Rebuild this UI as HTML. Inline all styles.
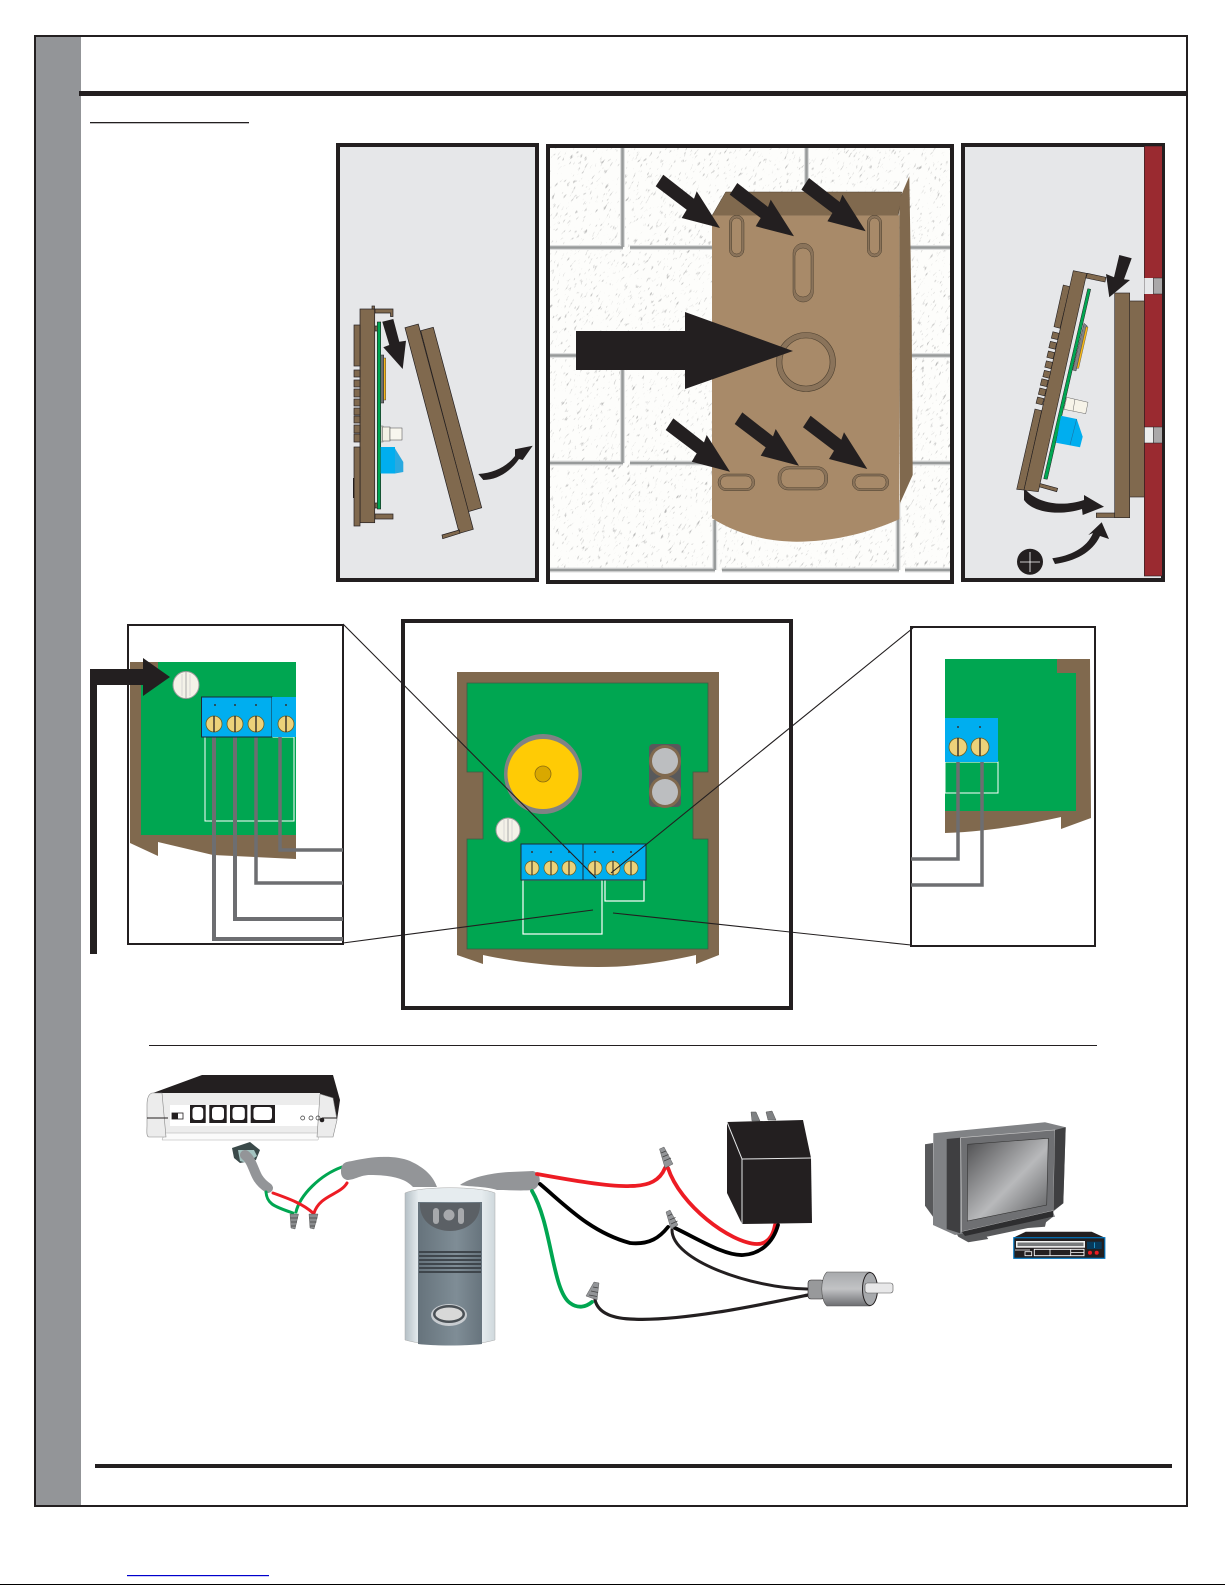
<!DOCTYPE html>
<html><head><meta charset="utf-8"><title>Diagram</title>
<style>html,body{margin:0;padding:0;background:#fff}svg{display:block}</style></head>
<body>
<svg xmlns="http://www.w3.org/2000/svg" width="1225" height="1585" viewBox="0 0 1225 1585">
<defs>
<filter id="spk" x="0" y="0" width="1" height="1" color-interpolation-filters="sRGB">
<feTurbulence type="fractalNoise" baseFrequency=".16 .5" numOctaves="2" seed="7"/>
<feColorMatrix values="0 0 0 0 .55  0 0 0 0 .55  0 0 0 0 .55  5 0 0 0 -3.15"/>
</filter>
<clipPath id="wallclip"><rect x="550" y="148" width="400" height="423"/></clipPath>
<linearGradient id="scr" x1="0" y1="0" x2="1" y2="1"><stop offset="0" stop-color="#4d4d4f"/><stop offset=".55" stop-color="#b8b9bb"/><stop offset="1" stop-color="#58595b"/></linearGradient>
<linearGradient id="door" x1="0" y1="0" x2="1" y2="0"><stop offset="0" stop-color="#b4bfc5"/><stop offset=".15" stop-color="#e6ecef"/><stop offset=".85" stop-color="#e6ecef"/><stop offset="1" stop-color="#cfd8dc"/></linearGradient>
<linearGradient id="doorp" x1="0" y1="0" x2="1" y2="0"><stop offset="0" stop-color="#66737c"/><stop offset=".6" stop-color="#7f8d96"/><stop offset="1" stop-color="#67747d"/></linearGradient>
<linearGradient id="bar" x1="0" y1="0" x2="0" y2="1"><stop offset="0" stop-color="#a7a9ac"/><stop offset=".5" stop-color="#c2c3c5"/><stop offset="1" stop-color="#6d6e71"/></linearGradient>
</defs>

<!-- page frame -->
<rect x="36" y="36" width="45" height="1470" fill="#939598"/>
<rect x="35" y="36" width="1152" height="1470" fill="none" stroke="#231f20" stroke-width="2"/>
<rect x="79" y="91" width="1108" height="5" fill="#231f20"/>
<rect x="90" y="122" width="159" height="1.3" fill="#231f20"/>
<rect x="95" y="1464" width="1077" height="4" fill="#231f20"/>
<rect x="127" y="1575" width="142" height="1.2" fill="#0000cc"/>
<rect x="0" y="1584" width="1225" height="1" fill="#000"/>

<!-- panel 1 -->
<rect x="338" y="145" width="199" height="435" fill="#e6e7e9" stroke="#231f20" stroke-width="4"/>
<g fill="#80694e" stroke="#231f20" stroke-width=".7">
<rect x="360" y="309" width="14.7" height="213.7"/><rect x="354" y="325" width="6" height="41"/>
<rect x="354" y="370" width="6" height="7"/><rect x="354" y="380" width="6" height="7"/><rect x="354" y="389" width="6" height="8"/><rect x="354" y="399" width="6" height="7"/><rect x="354" y="408" width="6" height="7"/><rect x="354" y="416" width="6" height="7"/><rect x="354" y="425" width="6" height="8"/><rect x="354" y="434" width="6" height="8"/>
<rect x="354" y="447" width="6" height="79"/>
<rect x="372" y="306" width="2.5" height="3"/>
<path d="M375 309H393V316.5H390.5V313H375Z"/><rect x="375" y="514" width="18" height="5"/>
<rect x="375" y="326" width="2.3" height="5"/><rect x="375" y="503" width="2.3" height="5"/>
<polygon points="420.7,330.7 433.3,327.3 481.7,507.7 468.3,511.7"/>
<polygon points="405,327.7 418.3,324 473.3,529.3 459.3,533.3"/>
<polygon points="442,535 459.3,530 460,533.3 442.7,538.7"/>
</g>
<rect x="353" y="478" width="1.2" height="20" fill="#231f20"/>
<rect x="377.3" y="322" width="3.4" height="187" fill="#00a651" stroke="#231f20" stroke-width=".6"/>
<rect x="380.7" y="355" width="3" height="48" fill="#6d6e71" stroke="#231f20" stroke-width=".5"/><rect x="383.7" y="358" width="2" height="42" fill="#f5b81c" stroke="#231f20" stroke-width=".4"/>
<rect x="381" y="426" width="2" height="16" fill="#f4f1e6" stroke="#444" stroke-width=".4"/><rect x="382.5" y="427" width="7.5" height="14" fill="#f4f1e6" stroke="#444" stroke-width=".5"/><rect x="390" y="428" width="12" height="12" fill="#f8f6ee" stroke="#444" stroke-width=".5"/>
<rect x="380.7" y="447" width="14.3" height="26.5" fill="#00aeef"/>
<polygon points="395,448.5 403.3,462 403.3,472 395,473.5" fill="#29a9e0"/>
<polygon points="382.3,321.7 393.3,319 399.3,341.7 406,340.7 402.7,369 383.3,347.3 389.3,345" fill="#231f20"/>
<path d="M478.3 474C495 473 507 466 515 456L515 449.3L532.7 445.7L522.7 460L519 459C510 472 497 480 483.3 480Z" fill="#231f20"/>

<!-- panel 2 -->
<rect x="548" y="146" width="404" height="436" fill="#fff" stroke="#231f20" stroke-width="4"/>
<rect x="550" y="148" width="400" height="423" fill="#fdfdfb"/>
<g clip-path="url(#wallclip)"><g transform="rotate(-58 750 360)"><rect x="450" y="60" width="600" height="600" filter="url(#spk)" opacity=".6"/></g></g>
<g fill="none" stroke="#dcdddd" stroke-width="5">
<path d="M550 247.5H623M630 247.5H712M910 247.5H950M622.5 148V247M806.5 148V190M550 355.5H576M910 355.5H950M622.5 370V463M550 463H623M630 463H712M912 463H950M714.7 520V570M898 500V570M550 570H715M722 570H899M905 570H950"/>
</g>
<g fill="none" stroke="#979a9a" stroke-width="2.5">
<path d="M550 247.5H623M630 247.5H712M910 247.5H950M622.5 148V247M806.5 148V190M550 355.5H576M910 355.5H950M622.5 370V463M550 463H623M630 463H712M912 463H950M714.7 520V570M898 500V570M550 570H715M722 570H899M905 570H950"/>
</g>
<polygon points="725.7,192 901.7,192 898.3,215.3 712.3,215.3" fill="#80694e" stroke="#4d4030" stroke-width=".5"/>
<path d="M712 215.3H899.3V519.3C870 532 836 541.7 796.7 541.7C765 541.7 735 533 712 518.3Z" fill="#a88a69"/>
<polygon points="899.3,199.7 909.3,176.3 911.7,320 912.7,475 900,503.3 899.3,380" fill="#80694e"/>
<g fill="#8a735a" stroke="#4d4030" stroke-width=".5">
<rect x="729.3" y="215.3" width="14.7" height="41.7" rx="7.3"/><rect x="867.3" y="215.3" width="14.4" height="41.7" rx="7.2"/>
<rect x="793" y="243.3" width="20.3" height="58.7" rx="10"/>
<rect x="718" y="474" width="36.7" height="16.7" rx="8"/><rect x="778" y="466.7" width="49.7" height="23.3" rx="10"/><rect x="852.3" y="474" width="36.4" height="16.7" rx="8"/>
</g>
<g fill="#a88a69" stroke="#4d4030" stroke-width=".5">
<rect x="731.7" y="218" width="10" height="36" rx="5"/><rect x="869.7" y="218" width="9.6" height="36" rx="4.8"/>
<rect x="795" y="248" width="16" height="49" rx="8"/>
<rect x="720.5" y="476" width="31.5" height="12.7" rx="6"/><rect x="781" y="469" width="43.5" height="18.7" rx="8"/><rect x="855" y="476" width="31" height="12.7" rx="6"/>
</g>
<circle cx="806" cy="362" r="29.5" fill="#8a735a" stroke="#4d4030" stroke-width=".6"/><circle cx="806" cy="362" r="24" fill="#a88a69" stroke="#4d4030" stroke-width=".6"/>
<g fill="#231f20">
<polygon points="576,331 685,331 685,312 793,351 685,389 685,370 576,370"/>
<polygon transform="translate(720 228)" points="-56.7,-53.3 -26,-29.3 -23.3,-36.7 0,0 -38.3,-10 -33.3,-18.3 -64.3,-41.7"/>
<polygon transform="translate(794 236.3)" points="-56.7,-53.3 -26,-29.3 -23.3,-36.7 0,0 -38.3,-10 -33.3,-18.3 -64.3,-41.7"/>
<polygon transform="translate(865.7 231.3)" points="-56.7,-53.3 -26,-29.3 -23.3,-36.7 0,0 -38.3,-10 -33.3,-18.3 -64.3,-41.7"/>
<polygon transform="translate(730 471.7)" points="-56.7,-53.3 -26,-29.3 -23.3,-36.7 0,0 -38.3,-10 -33.3,-18.3 -64.3,-41.7"/>
<polygon transform="translate(799 465.7)" points="-56.7,-53.3 -26,-29.3 -23.3,-36.7 0,0 -38.3,-10 -33.3,-18.3 -64.3,-41.7"/>
<polygon transform="translate(867.3 469)" points="-56.7,-53.3 -26,-29.3 -23.3,-36.7 0,0 -38.3,-10 -33.3,-18.3 -64.3,-41.7"/>
</g>

<!-- panel 3 -->
<rect x="963" y="145" width="200" height="435" fill="#e6e7e9" stroke="#231f20" stroke-width="4"/>
<rect x="1144.3" y="146" width="18" height="430" fill="#9a2a30" stroke="#231f20" stroke-width=".6"/>
<rect x="1144.3" y="278" width="9" height="16" fill="#e6e7e9"/><rect x="1153.3" y="278" width="9" height="16" fill="#aaa8a9" stroke="#231f20" stroke-width=".5"/>
<rect x="1144.3" y="427" width="9" height="16" fill="#eceded" stroke="#231f20" stroke-width=".5"/><rect x="1153.3" y="427" width="9" height="16" fill="#aaa8a9" stroke="#231f20" stroke-width=".5"/>
<g fill="#80694e" stroke="#231f20" stroke-width=".6">
<rect x="1129.7" y="301" width="14.6" height="196"/><rect x="1114.7" y="293" width="15" height="224.7"/><rect x="1096.3" y="513" width="18.4" height="4.5"/>
<polygon points="1087.3,273.3 1106,277.3 1105,282 1086,278"/><polygon points="1039.3,483.3 1057.7,488.3 1056.7,491.7 1038.7,486.7"/>
<polygon points="1063.3,285 1070,286.7 1060,328.3 1054,326.7"/>
<polygon points="1035,409 1041.7,410.7 1024,490 1016.7,489.3"/>
<polygon points="1073.3,270.7 1086.7,273.3 1038.3,491.7 1024,490"/>
<rect x="1052" y="332.5" width="6.5" height="6.5" transform="rotate(14 1055.3 335.7)"/><rect x="1049.5" y="342" width="6.5" height="6.5" transform="rotate(14 1052.7 345.3)"/><rect x="1047.5" y="351.7" width="6.5" height="6.5" transform="rotate(14 1050.7 355)"/><rect x="1045.5" y="361.5" width="6.5" height="6.5" transform="rotate(14 1048.7 364.7)"/><rect x="1043.5" y="371" width="6.5" height="6.5" transform="rotate(14 1046.7 374.3)"/><rect x="1041" y="379.5" width="6.5" height="6.5" transform="rotate(14 1044.3 382.7)"/><rect x="1039" y="388.7" width="6.5" height="6.5" transform="rotate(14 1042.3 392)"/><rect x="1036.7" y="397.7" width="6.5" height="6.5" transform="rotate(14 1040 401)"/>
</g>
<polygon points="1087.7,288.7 1090.7,289.3 1047.3,479.3 1043.7,478.7" fill="#00a651" stroke="#231f20" stroke-width=".5"/>
<polygon points="1084,323.3 1087.3,326 1076,371 1072.7,370" fill="#808285" stroke="#231f20" stroke-width=".4"/><polygon points="1086,326.7 1088,327.3 1078.7,368.3 1076.7,368.3" fill="#f5b81c" stroke="#231f20" stroke-width=".3"/>
<polygon points="1066.7,397.3 1088,402.3 1085.7,413.7 1064,409.3" fill="#f6f3e8" stroke="#666" stroke-width=".5"/><path d="M1075 399L1073 411" stroke="#666" stroke-width=".5"/>
<polygon points="1061,415.7 1076.7,419 1082.7,436.7 1080,447.3 1056,442.7" fill="#00aeef"/><path d="M1076.7 419L1070 445" stroke="#1b75a8" stroke-width=".6"/>
<polygon points="1119.3,255 1131.7,258.3 1124,279.3 1130,280 1109.3,297.3 1106,274 1114,277.3" fill="#231f20"/>
<path d="M1024 490L1026.7 490.7C1037 502 1060 508 1084 500L1084 495L1104 506.7L1082.7 515L1082 509C1060 516 1033 513 1024 500Z" fill="#231f20"/>
<path d="M1052.3 558.3C1070 556 1087 548 1093 533L1088.3 535L1101.7 522.3L1109 539L1100 536C1092 553 1075 561 1055 564Z" fill="#231f20"/>
<circle cx="1030" cy="561.7" r="13" fill="#231f20"/><path d="M1030 552v20M1020 562h20" stroke="#fff" stroke-width=".8"/>

<!-- bottom boxes: left -->
<rect x="128" y="625" width="215" height="319" fill="#fff" stroke="#231f20" stroke-width="2"/>
<polygon points="130,662 296,662 296,859 213,855 158,842 158,856 130,843" fill="#80694e"/>
<polygon points="141,835 296,835 296,662 158,662 158,675 141,675" fill="#00a651"/>
<rect x="205" y="737" width="89" height="84" fill="none" stroke="#fff" stroke-width="1"/>
<g fill="none" stroke="#6d6e71" stroke-width="3.5">
<path d="M214 737V939H343" stroke-width="4"/><path d="M235 737V919H343" stroke-width="4"/><path d="M256 737V883H343"/><path d="M280 737V850H343"/>
</g>
<rect x="201.5" y="697" width="70.5" height="40" fill="#00aeef" stroke="#1c2a38" stroke-width="1"/>
<rect x="272" y="697" width="24" height="40" fill="#00aeef"/>
<g fill="#ecd27a" stroke="#6b5d1f" stroke-width=".8"><ellipse cx="214" cy="724" rx="8" ry="8"/><ellipse cx="235" cy="724" rx="8" ry="8"/><ellipse cx="256" cy="724" rx="8" ry="8"/><ellipse cx="286" cy="724" rx="8" ry="8"/></g>
<path d="M214 716v16M235 716v16M256 716v16M286 716v16" stroke="#231f20" stroke-width="1.3"/>
<g fill="#333"><circle cx="215" cy="705" r="1"/><circle cx="235" cy="705" r="1"/><circle cx="256" cy="705" r="1"/><circle cx="286" cy="705" r="1"/></g>
<ellipse cx="186" cy="685" rx="13" ry="13.5" fill="#f4f2e8" stroke="#999" stroke-width="1"/><path d="M186 672v26" stroke="#aaa" stroke-width="1"/><path d="M182 674v22M190 674v22" stroke="#ccc" stroke-width=".7"/>
<path d="M90 954V669H143V658L170 677L143 696V685H97V954Z" fill="#231f20"/>

<!-- center box -->
<rect x="403" y="621" width="388" height="387" fill="#fff" stroke="#231f20" stroke-width="4"/>
<path d="M457 672H719V955L696 964V955C660 963 630 967 598 967C560 967 520 963 483 955V964L457 955Z" fill="#80694e"/>
<path d="M467 683H708V772H693V839H708V949H467V839H483V772H467Z" fill="#00a651" stroke="#3e5b45" stroke-width=".8"/>
<ellipse cx="543" cy="774" rx="39" ry="40" fill="#808285"/><ellipse cx="543" cy="774" rx="35.5" ry="35" fill="#ffcb05"/><circle cx="543" cy="774" r="8" fill="#d9a800" stroke="#8b6c10" stroke-width=".8"/>
<rect x="649" y="744" width="32" height="63" rx="4" fill="#58595b"/><circle cx="665" cy="761" r="16" fill="#80694e"/><circle cx="665" cy="792" r="16" fill="#80694e"/><circle cx="665" cy="761" r="13" fill="#bcbec0"/><circle cx="665" cy="792" r="13" fill="#bcbec0"/>
<circle cx="508" cy="830" r="12" fill="#f4f2e8" stroke="#999" stroke-width="1"/><path d="M508 819v22" stroke="#aaa" stroke-width="1"/><path d="M504 820v20M512 820v20" stroke="#ccc" stroke-width=".7"/>
<g fill="none" stroke="#fff" stroke-width="1.2"><rect x="523" y="880" width="79" height="54"/><rect x="605" y="880" width="39" height="21"/></g>
<rect x="521" y="844" width="62" height="36" fill="#00aeef" stroke="#1c2a38" stroke-width="1"/><rect x="583" y="844" width="63" height="36" fill="#00aeef" stroke="#1c2a38" stroke-width="1"/>
<g fill="#ecd27a" stroke="#6b5d1f" stroke-width=".7"><circle cx="532" cy="868" r="7"/><circle cx="551" cy="868" r="7"/><circle cx="569" cy="868" r="7"/><circle cx="595" cy="868" r="7"/><circle cx="613" cy="868" r="7"/><circle cx="631" cy="868" r="7"/></g>
<path d="M532 861v14M551 861v14M569 861v14M595 861v14M613 861v14M631 861v14" stroke="#231f20" stroke-width="1"/>
<g fill="#333"><circle cx="532" cy="852" r="1"/><circle cx="551" cy="852" r="1"/><circle cx="569" cy="852" r="1"/><circle cx="595" cy="852" r="1"/><circle cx="613" cy="852" r="1"/><circle cx="631" cy="852" r="1"/></g>

<!-- right box -->
<rect x="911" y="627" width="184" height="319" fill="#fff" stroke="#231f20" stroke-width="2"/>
<path d="M945 659H1090L1091 818L1061 829V817C1025 825 985 832 945 833Z" fill="#80694e"/>
<path d="M945 659H1057V673H1076V811H945Z" fill="#00a651"/>
<rect x="945" y="762" width="53" height="31" fill="none" stroke="#fff" stroke-width="1"/>
<path d="M958 762V859H911M982 762V885H911" fill="none" stroke="#6d6e71" stroke-width="3.5"/>
<rect x="945" y="718" width="53" height="44" fill="#00aeef"/>
<g fill="#ecd27a" stroke="#6b5d1f" stroke-width=".8"><circle cx="958" cy="747" r="9"/><circle cx="980" cy="747" r="9"/></g>
<path d="M958 738v18M980 738v18" stroke="#231f20" stroke-width="1.3"/>
<circle cx="958" cy="727" r="1" fill="#333"/><circle cx="980" cy="727" r="1" fill="#333"/>

<!-- callout lines -->
<g stroke="#231f20" stroke-width="1.1" fill="none"><path d="M343 624L596 878M913 628L611 873M343 943L593 910M613 913L911 945"/></g>
<rect x="149" y="1045" width="948" height="1" fill="#231f20"/>

<!-- modem -->
<polygon points="153,1093 202,1075 333,1075 340,1100 337,1120 320,1094" fill="#231f20"/>
<polygon points="162,1093 320,1093 318,1140 162,1140" fill="#ececec"/>
<polygon points="165,1133 320,1133 318,1140 162,1140" fill="#fafafa" stroke="#999" stroke-width=".4"/>
<rect x="170" y="1105" width="150" height="21" fill="#fff"/>
<path d="M152 1093H162L166 1137H149C146 1137 147 1130 147 1125V1105C147 1098 149 1094 152 1093Z" fill="#ececec" stroke="#888" stroke-width=".6"/>
<polygon points="320,1094 333,1098 337,1120 333,1137 317,1137" fill="#ececec" stroke="#888" stroke-width=".6"/>
<path d="M147 1118H168M322 1118H337" stroke="#231f20" stroke-width="1"/>
<rect x="172" y="1113" width="11" height="6" fill="#fff" stroke="#231f20" stroke-width=".8"/><rect x="172" y="1113" width="6" height="6" fill="#231f20"/>
<g fill="#231f20"><rect x="190" y="1105" width="15.7" height="18"/><rect x="209.3" y="1105" width="17.4" height="18"/><rect x="230" y="1105" width="17.3" height="18"/><rect x="250.7" y="1105" width="24.3" height="18"/></g>
<g fill="#fff"><rect x="192.5" y="1107" width="10.7" height="13" rx="3"/><rect x="212" y="1107" width="12" height="13" rx="3"/><rect x="232.5" y="1107" width="12.3" height="13" rx="3"/><rect x="253.5" y="1107" width="18.5" height="13" rx="3"/></g>
<circle cx="302.7" cy="1118" r="2" fill="none" stroke="#333" stroke-width=".7"/><circle cx="311" cy="1118" r="2" fill="none" stroke="#333" stroke-width=".7"/><circle cx="318" cy="1118" r="2" fill="none" stroke="#333" stroke-width=".7"/><circle cx="322" cy="1120" r="2.3" fill="#231f20"/>
<!-- plug -->
<polygon points="232,1148 250,1142 260,1150 256,1160 240,1163 234,1158" fill="#3b4a4a"/>
<polygon points="238,1150 254,1150 257,1156 247,1163 240,1161" fill="#a3c3c0"/>
<path d="M245 1155C252 1160 254 1172 258 1178C261 1183 265 1186 268 1188" fill="none" stroke="#939598" stroke-width="10" stroke-linecap="round"/>
<!-- left wires -->
<g fill="none" stroke-width="3" stroke-linecap="round">
<path d="M266 1192C267 1203 272 1206 293 1213" stroke="#00a651"/>
<path d="M296 1212C300 1195 320 1175 342 1167" stroke="#00a651"/>
<path d="M273 1193C290 1199 303 1204 313 1213" stroke="#ed1c24"/>
<path d="M314 1213C320 1195 340 1195 347 1183" stroke="#ed1c24"/>
</g>
<g stroke="#444" stroke-width=".4" fill="#8a8c8e"><polygon points="290,1214 298.5,1214 295,1229 291,1228"/><polygon points="309,1214 318,1214 314,1229 310,1228"/></g>
<path d="M290.5 1218h7.5M291 1222h6M291 1226h4.5M309.5 1218h8M310 1222h6.5M310 1226h5" stroke="#444" stroke-width=".8"/>
<!-- sheaths -->
<path d="M341 1172C341 1163 345 1162 352 1161C375 1156 395 1155 410 1161C425 1168 433 1176 437 1187L413 1187C405 1178 390 1175 370 1175C360 1175 355 1180 347 1180C343 1179 341 1176 341 1172Z" fill="#939598"/>
<path d="M460 1185C470 1178 490 1173 510 1172L533 1171C541 1173 543 1185 533 1190C520 1191 510 1190 497 1190C485 1186 470 1187 460 1185Z" fill="#939598"/>
<!-- door station -->
<path d="M405 1193C420 1186 480 1186 495 1193V1340C470 1347 430 1347 405 1340Z" fill="url(#door)" stroke="#aaa" stroke-width=".5"/>
<path d="M418 1202H482V1344C465 1346 435 1346 418 1344Z" fill="url(#doorp)"/>
<path d="M420 1203H480C481 1222 465 1231 450 1231C435 1231 419 1222 420 1203Z" fill="#5b6065"/>
<rect x="433" y="1208" width="6" height="16" rx="3" fill="#a7a9ac"/><circle cx="449" cy="1215" r="5.5" fill="#a7a9ac"/><rect x="458" y="1208" width="6" height="16" rx="3" fill="#a7a9ac"/>
<g fill="#3f464c"><rect x="419" y="1251" width="62" height="2"/><rect x="419" y="1255" width="62" height="2"/><rect x="419" y="1259" width="62" height="2"/><rect x="419" y="1263" width="62" height="2"/><rect x="419" y="1267" width="62" height="2"/><rect x="419" y="1271" width="62" height="2"/></g>
<ellipse cx="449" cy="1315" rx="18" ry="11" fill="#c8ccd0"/><ellipse cx="449" cy="1314" rx="16" ry="9" fill="#4a5055"/><ellipse cx="449" cy="1314" rx="13.5" ry="6.5" fill="#d8d8d8"/>
<!-- right wires -->
<g fill="none" stroke-linecap="round">
<path d="M537 1174C570 1180 610 1187 630 1186C650 1186 660 1180 665 1168" stroke="#ed1c24" stroke-width="3.8"/>
<path d="M668 1168C680 1205 730 1243 757 1244C768 1244 773 1236 775 1225" stroke="#ed1c24" stroke-width="3.8"/>
<path d="M540 1184C565 1205 590 1232 630 1243C650 1245 660 1237 668 1227" stroke="#000" stroke-width="3.8"/>
<path d="M675 1228C700 1240 725 1256 743 1255C760 1254 773 1243 778 1225" stroke="#000" stroke-width="3.8"/>
<path d="M672 1230C672 1260 750 1288 807 1289" stroke="#231f20" stroke-width="3"/>
<path d="M595 1300C598 1312 610 1318 630 1319C680 1322 760 1305 808 1295" stroke="#231f20" stroke-width="3.2"/>
<path d="M532 1191C552 1225 552 1290 570 1303C578 1309 586 1307 592 1302" stroke="#00a651" stroke-width="3.8"/>
</g>
<g stroke="#444" stroke-width=".4" fill="#939598">
<polygon points="659.5,1149 664,1147 673,1164 665,1168"/><polygon points="666,1212 670,1210 678,1225 671,1229"/><polygon points="594,1282 599,1283 597,1300 586,1296"/>
</g>
<path d="M661 1153l5-2M662.5 1157l6-2.5M664 1161l7-3M668 1216l4-2M669.5 1220l6-2.5M671 1224l6.5-3M593 1287l5.5 1M591 1291l7 1.5M589 1295l8 1.5" stroke="#444" stroke-width=".8" fill="none"/>
<!-- power adapter -->
<g fill="#7f8183" stroke="#555" stroke-width=".5"><polygon points="751,1112 756,1112 760,1121 752,1121"/><polygon points="766,1112 772,1111 776,1120 768,1120"/></g>
<polygon points="727,1122 803,1120 811,1158 812,1223 742,1224 727,1193" fill="#231f20"/>
<path d="M727 1122L742 1159L811 1158M742 1159V1224" fill="none" stroke="#e6e7e8" stroke-width="1"/>
<!-- RCA -->
<rect x="808" y="1280" width="16" height="19" rx="3" fill="#98999b" stroke="#231f20" stroke-width=".6"/>
<path d="M827 1272H870C878 1278 878 1300 870 1306H827C820 1300 820 1278 827 1272Z" fill="url(#bar)" stroke="#555" stroke-width=".6"/>
<ellipse cx="870" cy="1289" rx="7.5" ry="16.5" fill="#a7a9ac" stroke="#231f20" stroke-width="1"/>
<rect x="865" y="1283" width="28" height="10" rx="2.5" fill="#e8e8e9" stroke="#555" stroke-width=".6"/>
<!-- TV -->
<polygon points="925,1144.3 933,1143 933,1216.7 925,1205.7" fill="#58595b"/>
<polygon points="955,1231 1053,1216.7 1046,1222.3 1045,1226.7 1028,1228 986.7,1236.7 988.3,1239 968.3,1242.3 958.3,1236.7" fill="#58595b"/>
<polygon points="933.3,1133.3 1045,1122.3 1065.7,1127.3 1063.3,1203.3 1053,1211.7 1055,1216.7 955,1235 933,1225" fill="#808285"/>
<polygon points="946.7,1139 960,1137.7 960,1233.3 946.7,1229" fill="#3f3f41"/>
<polygon points="960.7,1137.7 1055,1130 1053.3,1210.7 961.7,1231.7" fill="#6f7073" stroke="#c8c8c8" stroke-width=".6"/>
<polygon points="1055,1130 1065.7,1127.3 1063.3,1203.3 1053.3,1210.7" fill="#3f3f41"/>
<polygon points="967.7,1144.3 1048.3,1138.3 1046.7,1205 967.3,1221" fill="url(#scr)" stroke="#333" stroke-width=".6"/>
<polygon points="961.7,1231.7 1053.3,1210.7 1053,1216.7 965,1236" fill="#2e2e30"/>
<!-- VCR -->
<polygon points="1025.7,1231.7 1091.7,1231.7 1105,1237.7 1013.3,1237.7" fill="#231f20"/>
<rect x="1013.8" y="1237.7" width="91" height="20.6" fill="#231f20" stroke="#0072bc" stroke-width="1.2"/>
<rect x="1016" y="1241" width="69" height="6.7" fill="#f2f2f2"/><rect x="1017.5" y="1242.5" width="66" height="3.6" fill="#77797b"/>
<rect x="1087" y="1241.7" width="14.7" height="7.3" fill="#063a5c"/><rect x="1094" y="1242.5" width=".8" height="5.5" fill="#29abe2"/>
<rect x="1034.3" y="1249.3" width="49.7" height="6.4" fill="none" stroke="#fff" stroke-width=".9"/>
<path d="M1050 1249.3v6.4M1070.7 1249.3v6.4M1071 1252.5h13M1015 1250h15" stroke="#fff" stroke-width=".8"/>
<rect x="1025" y="1251.7" width="6.7" height="4" fill="none" stroke="#fff" stroke-width=".8"/>
<circle cx="1090" cy="1252.7" r="2" fill="#ed1c24"/><circle cx="1096.7" cy="1252.7" r="2" fill="#ed1c24"/>
</svg>
</body></html>
